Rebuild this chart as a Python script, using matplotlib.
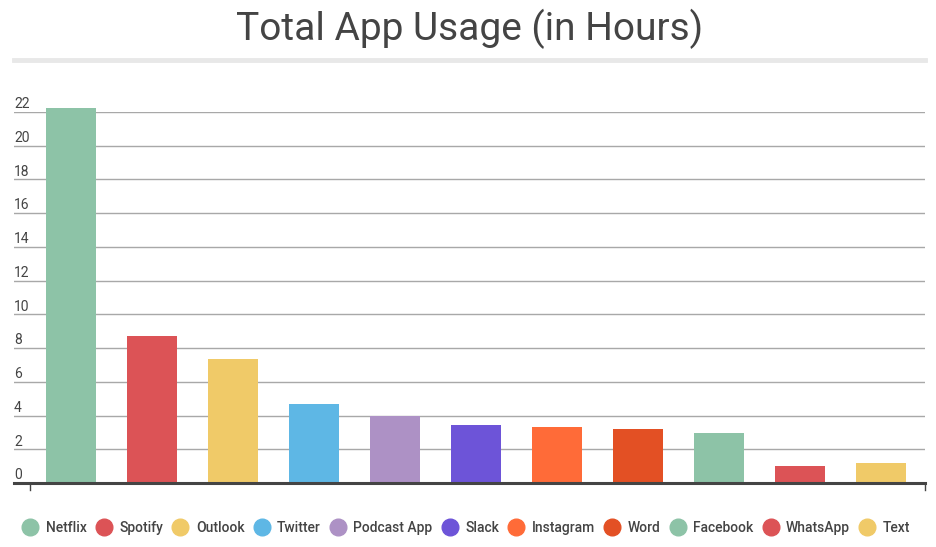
import matplotlib.pyplot as plt
from matplotlib.lines import Line2D

apps = ["Netflix", "Spotify", "Outlook", "Twitter", "Podcast App", "Slack",
        "Instagram", "Word", "Facebook", "WhatsApp", "Text"]
hours = [22.25, 8.72, 7.35, 4.69, 3.97, 3.46, 3.32, 3.2, 2.95, 1.0, 1.19]
colors = ["#8DC3A7", "#DC5356", "#F0CA68", "#5EB7E5", "#AD91C5", "#6D54D8",
          "#FF6B38", "#E35024", "#8DC3A7", "#DC5356", "#F0CA68"]
yticks = [0, 2, 4, 6, 8, 10, 12, 14, 16, 18, 20, 22]

plt.rcParams['font.family'] = ['Roboto', 'DejaVu Sans']

fig = plt.figure(figsize=(9.37, 5.47), dpi=100)
W, H = 937, 547
ax = fig.add_axes([14 / W, 1 - 483 / H, 911 / W, 371 / H])

xs = list(range(len(apps)))
ax.bar(xs, hours, width=0.617, color=colors, clip_on=False, zorder=3)
ax.set_xlim(-0.704, 10.54)
ax.set_ylim(0, 22)

for t in yticks[1:]:
    ax.axhline(t, color="#a8a8a8", lw=1, zorder=1)
ax.axhline(0, color="#444444", lw=2.2, zorder=4, clip_on=False)
for t in yticks:
    ax.annotate(str(t), xy=(0, t), xycoords=("axes fraction", "data"),
                xytext=(0, 0.5), textcoords="offset points",
                ha="left", va="bottom", fontsize=10, color="#444444")

# small ticks under the baseline
for xf in [(30 - 14) / 911, 1.0]:
    ax.plot([xf, xf], [0, -0.018], transform=ax.transAxes, color="#444444",
            lw=1, clip_on=False)

for s in ax.spines.values():
    s.set_visible(False)
ax.set_xticks([])
ax.set_yticks([])

fig.text(470 / W, 1 - 29 / H, "Total App Usage (in Hours)", ha="center",
         va="center", fontsize=28, color="#444444")
fig.add_artist(Line2D([14 / W, 925 / W], [1 - 60 / H, 1 - 60 / H],
                      color="#e8e8e8", lw=3.5))

handles = [Line2D([], [], marker="o", linestyle="", markersize=12,
                  markerfacecolor=c, markeredgecolor=c) for c in colors]
fig.legend(handles, apps, loc="center", bbox_to_anchor=(466 / W, 1 - 528 / H),
           ncol=len(apps), frameon=False, prop={"size": 10, "weight": "medium"},
           handletextpad=0.5, columnspacing=0.65, labelcolor="#444444",
           handlelength=1.2)

fig.savefig("out.png", dpi=100)
